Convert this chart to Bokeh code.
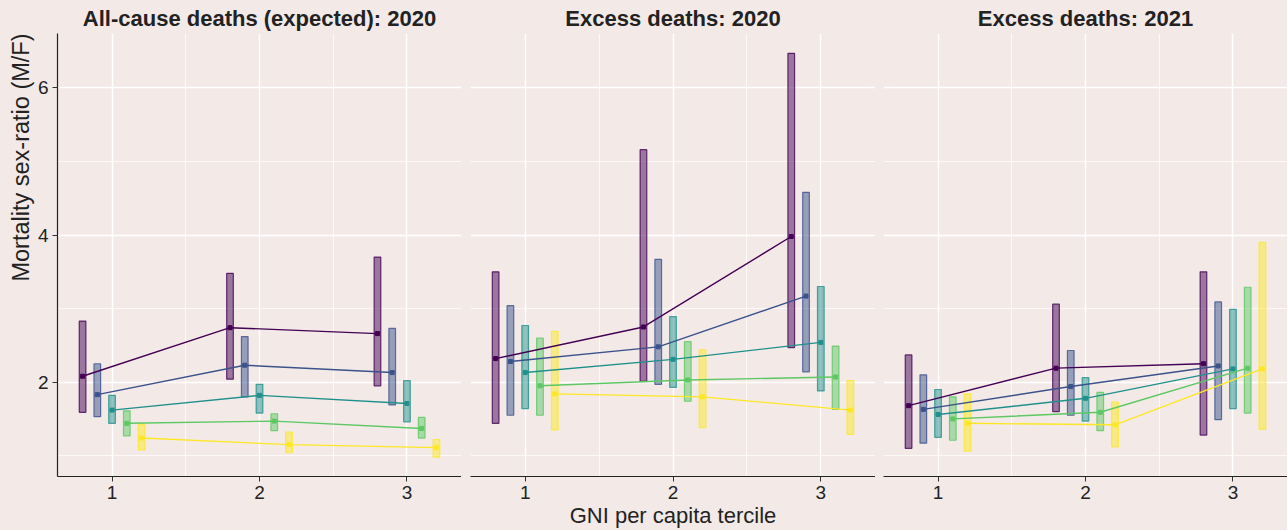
from bokeh.plotting import figure
from bokeh.layouts import row
from bokeh.models import Range1d, FixedTicker, Title
from bokeh.embed import file_html
from bokeh.resources import INLINE

# ---------------- data ----------------
terciles = [1, 2, 3]
tick_labels = {1: "1", 2: "2", 3: "3"}
groups = ["G1", "G2", "G3", "G4", "G5"]
colors = ["#440154", "#3B528B", "#21908C", "#5DC863", "#FDE725"]
dodge = [-0.2, -0.1, 0.0, 0.1, 0.2]

panel_titles = ["All-cause deaths (expected): 2020",
                "Excess deaths: 2020",
                "Excess deaths: 2021"]
y_title = "Mortality sex-ratio (M/F)"
x_title = "GNI per capita tercile"

# panel 1: all-cause deaths (expected) 2020
p1_est = [[2.08, 2.74, 2.66], [1.83, 2.23, 2.13], [1.62, 1.82, 1.71], [1.44, 1.47, 1.37], [1.24, 1.15, 1.11]]
p1_lo = [[1.59, 2.04, 1.95], [1.53, 1.80, 1.69], [1.44, 1.58, 1.46], [1.27, 1.34, 1.24], [1.08, 1.04, 0.98]]
p1_hi = [[2.83, 3.48, 3.70], [2.25, 2.62, 2.73], [1.82, 1.97, 2.02], [1.61, 1.57, 1.52], [1.43, 1.32, 1.22]]

# panel 2: excess deaths 2020
p2_est = [[2.32, 2.75, 3.98], [2.28, 2.48, 3.17], [2.13, 2.31, 2.54], [1.95, 2.03, 2.07], [1.84, 1.80, 1.62]]
p2_lo = [[1.44, 2.01, 2.47], [1.55, 1.97, 2.14], [1.64, 1.93, 1.88], [1.55, 1.74, 1.63], [1.35, 1.38, 1.29]]
p2_hi = [[3.50, 5.16, 6.47], [3.04, 3.67, 4.58], [2.77, 2.89, 3.30], [2.60, 2.55, 2.49], [2.69, 2.44, 2.02]]

# panel 3: excess deaths 2021
p3_est = [[1.68, 2.19, 2.25], [1.63, 1.94, 2.22], [1.56, 1.78, 2.18], [1.50, 1.59, 2.19], [1.44, 1.42, 2.18]]
p3_lo = [[1.10, 1.60, 1.28], [1.17, 1.55, 1.49], [1.25, 1.47, 1.64], [1.21, 1.34, 1.58], [1.06, 1.12, 1.36]]
p3_hi = [[2.37, 3.06, 3.50], [2.10, 2.43, 3.09], [1.90, 2.06, 2.99], [1.80, 1.86, 3.29], [1.84, 1.73, 3.90]]

panels = [(p1_est, p1_lo, p1_hi), (p2_est, p2_lo, p2_hi), (p3_est, p3_lo, p3_hi)]

# ---------------- style ----------------
BG = "#F3EAE8"
FONT = "Liberation Sans"
xr = Range1d(0.63, 3.37)
yr = Range1d(0.717, 6.74)

borders_left = [57, 9, 8]
frame_w = [404, 405, 404]
figs = []
for i, (est, lo, hi) in enumerate(panels):
    p = figure(width=borders_left[i] + frame_w[i], height=530,
               x_range=xr, y_range=yr,
               output_backend="svg", toolbar_location=None,
               y_axis_location="left" if i == 0 else None,
               min_border_left=borders_left[i], min_border_right=0,
               min_border_top=33, min_border_bottom=52,
               styles={"background-color": BG})
    p.background_fill_color = BG
    p.border_fill_color = BG
    p.outline_line_color = None

    p.title.text = panel_titles[i]
    p.title.align = "center"
    p.title.text_font = FONT
    p.title.text_font_size = "22px"
    p.title.text_font_style = "bold"
    p.title.text_color = "#222222"
    p.title.standoff = 5

    # grids
    p.xgrid.ticker = FixedTicker(ticks=terciles, minor_ticks=[1.5, 2.5])
    p.ygrid.ticker = FixedTicker(ticks=[2, 4, 6], minor_ticks=[1, 3, 5])
    for g in (p.xgrid, p.ygrid):
        g.grid_line_color = "white"
        g.grid_line_width = 1.4
        g.minor_grid_line_color = "white"
        g.minor_grid_line_width = 0.7

    # x axis
    xa = p.xaxis[0]
    xa.ticker = FixedTicker(ticks=terciles)
    xa.major_label_overrides = tick_labels
    xa.axis_line_color = "#222222"
    xa.axis_line_width = 1.2
    xa.major_tick_line_color = "#333333"
    xa.major_tick_out = 5
    xa.major_tick_in = 0
    xa.minor_tick_line_color = None
    xa.major_label_text_font = FONT
    xa.major_label_text_font_size = "19px"
    xa.major_label_text_color = "#222222"
    xa.major_label_standoff = 4
    if i == 1:
        xa.axis_label = x_title
        xa.axis_label_text_font = FONT
        xa.axis_label_text_font_size = "22px"
        xa.axis_label_text_font_style = "normal"
        xa.axis_label_text_color = "#222222"
        xa.axis_label_standoff = 1

    if i == 0:
        ya = p.yaxis[0]
        ya.ticker = FixedTicker(ticks=[2, 4, 6])
        ya.axis_line_color = "#222222"
        ya.axis_line_width = 1.2
        ya.major_tick_line_color = "#333333"
        ya.major_tick_out = 5
        ya.major_tick_in = 0
        ya.minor_tick_line_color = None
        ya.major_label_text_font = FONT
        ya.major_label_text_font_size = "19px"
        ya.major_label_text_color = "#222222"
        ya.major_label_standoff = 4
        # y-axis title, aligned to the top of the panel as in the reference
        p.add_layout(Title(text=y_title, align="right", standoff=1,
                           text_font=FONT, text_font_size="23.5px",
                           text_font_style="normal", text_color="#222222"), "left")

    for k in range(len(groups)):
        xs = [t + dodge[k] for t in terciles]
        c = colors[k]
        p.vbar(x=xs, top=hi[k], bottom=lo[k], width=0.045,
               fill_color=c, fill_alpha=0.5, line_color=c, line_alpha=0.8, line_width=1.2)
    for k in range(len(groups)):
        xs = [t + dodge[k] for t in terciles]
        p.line(xs, est[k], line_color=colors[k], line_width=1.4)
        p.scatter(xs, est[k], marker="square", size=4, fill_color=colors[k], line_color=colors[k])
    figs.append(p)

layout = row(*figs, spacing=0, styles={"background-color": BG})
open("out.html", "w").write(file_html(layout, INLINE))
